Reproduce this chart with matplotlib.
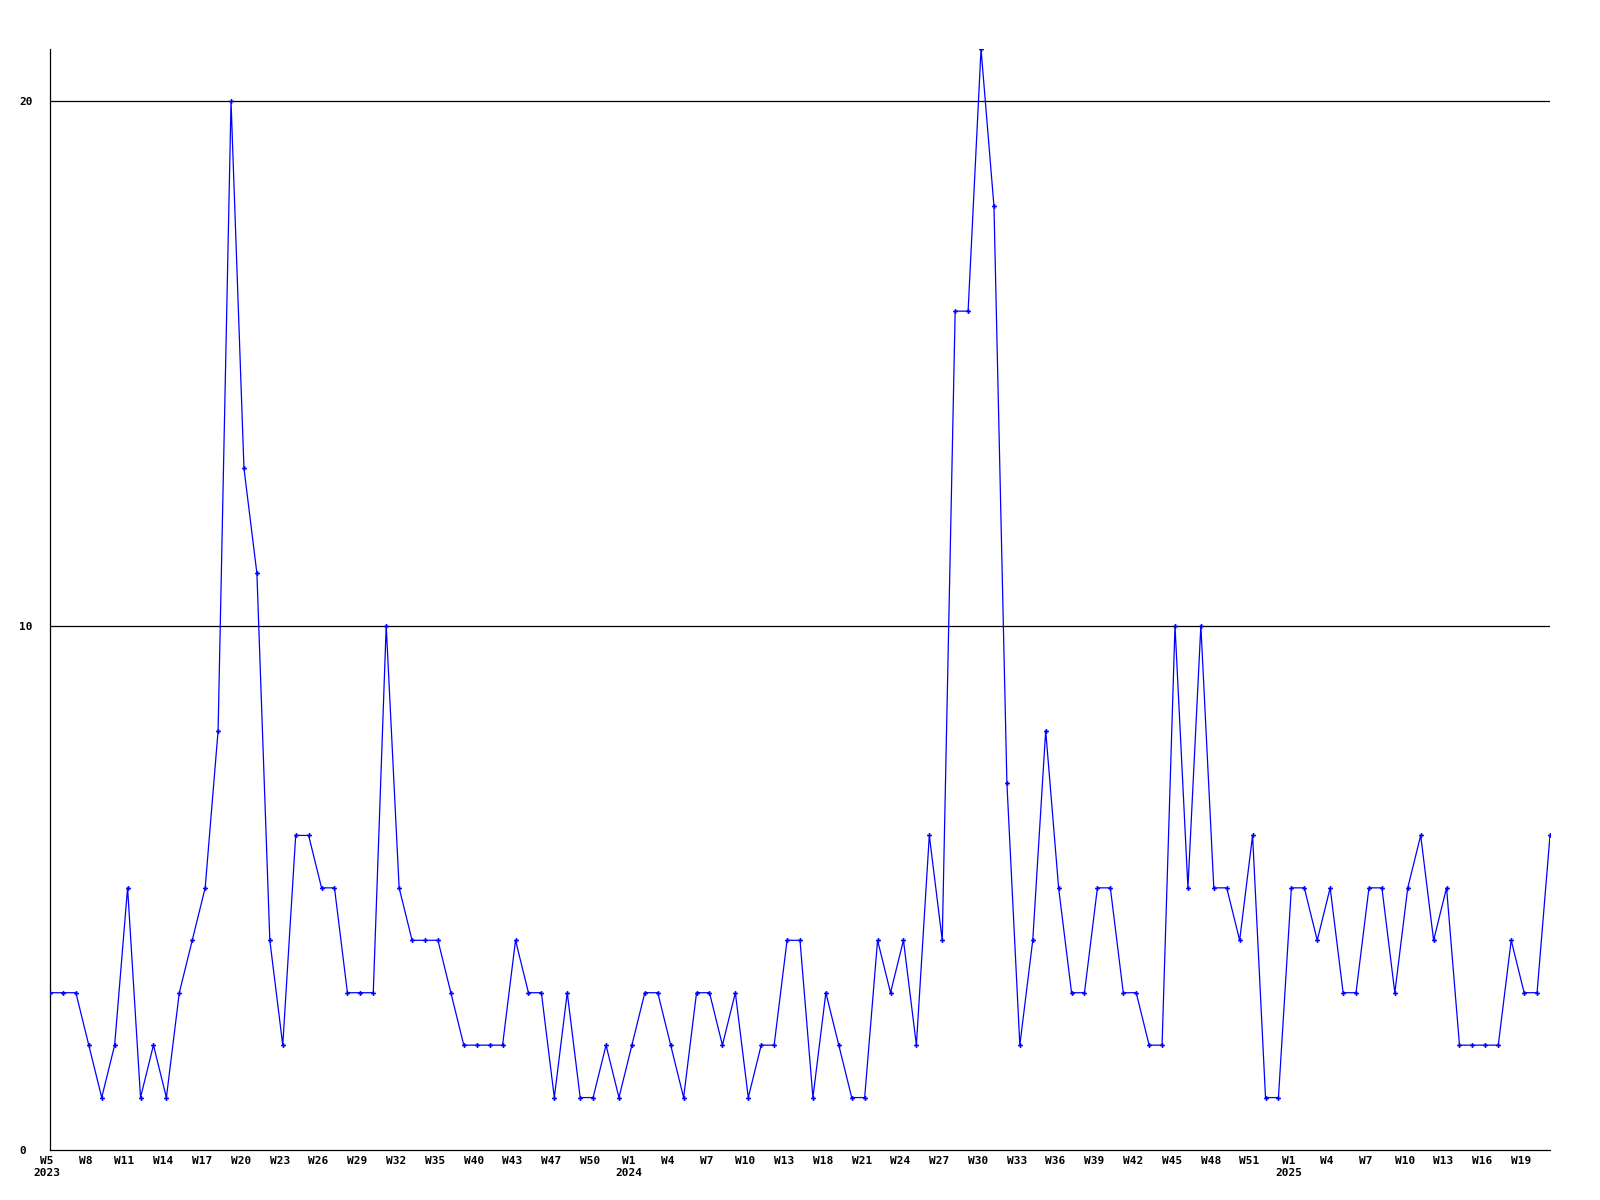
import matplotlib
matplotlib.use("Agg")
from matplotlib import pyplot as plt
from matplotlib.transforms import ScaledTranslation

# weekly counts, one point per week that has data (gaps in weeks are skipped)
counts = [3, 3, 3, 2, 1, 2, 5, 1, 2, 1, 3, 4, 5, 8, 20, 13, 11, 4, 2, 6,
          6, 5, 5, 3, 3, 3, 10, 5, 4, 4, 4, 3, 2, 2, 2, 2, 4, 3, 3, 1,
          3, 1, 1, 2, 1, 2, 3, 3, 2, 1, 3, 3, 2, 3, 1, 2, 2, 4, 4, 1,
          3, 2, 1, 1, 4, 3, 4, 2, 6, 4, 16, 16, 21, 18, 7, 2, 4, 8, 5, 3,
          3, 5, 5, 3, 3, 2, 2, 10, 5, 10, 5, 5, 4, 6, 1, 1, 5, 5, 4, 5,
          3, 3, 5, 5, 3, 5, 6, 4, 5, 2, 2, 2, 2, 4, 3, 3, 6]

# label every third point
week_labels = ["W5\n2023", "W8", "W11", "W14", "W17", "W20", "W23", "W26", "W29",
               "W32", "W35", "W40", "W43", "W47", "W50",
               "W1\n2024", "W4", "W7", "W10", "W13", "W18", "W21", "W24", "W27",
               "W30", "W33", "W36", "W39", "W42", "W45", "W48", "W51",
               "W1\n2025", "W4", "W7", "W10", "W13", "W16", "W19"]
ytick_vals = [0, 10, 20]

fig = plt.figure(figsize=(16, 12), dpi=100)
ax = fig.add_axes([50/1600, 50/1200, 1500/1600, 1101/1200])

x = list(range(len(counts)))
ax.plot(x, counts, color="#0000ff", lw=0.9, marker="P", ms=3.5,
        markeredgewidth=0, clip_on=True, zorder=3)

for v in ytick_vals[1:]:
    ax.axhline(v, color="black", lw=0.9, zorder=2)

ax.set_xlim(0, len(counts) - 1)
ax.set_ylim(0, 21)

ax.spines["top"].set_visible(False)
ax.spines["right"].set_visible(False)
ax.spines["left"].set_linewidth(0.9)
ax.spines["bottom"].set_linewidth(0.9)

ax.set_xticks(range(0, 3 * len(week_labels), 3))
ax.set_xticklabels(week_labels, fontfamily="DejaVu Sans Mono",
                   fontweight="bold", fontsize=8, linespacing=1.3,
                   va="top", ha="center")
ax.set_yticks(ytick_vals)
ax.set_yticklabels([str(v) for v in ytick_vals], fontfamily="DejaVu Sans Mono",
                   fontweight="bold", fontsize=8, ha="left")
ax.tick_params(axis="x", length=0, pad=4)
ax.tick_params(axis="y", length=0, pad=22)

# labels sit a few pixels left of their points, like the original
shift = ScaledTranslation(-3 / 100, 0, fig.dpi_scale_trans)
for lbl in ax.get_xticklabels():
    lbl.set_transform(lbl.get_transform() + shift)

fig.savefig("out.png", dpi=100)
